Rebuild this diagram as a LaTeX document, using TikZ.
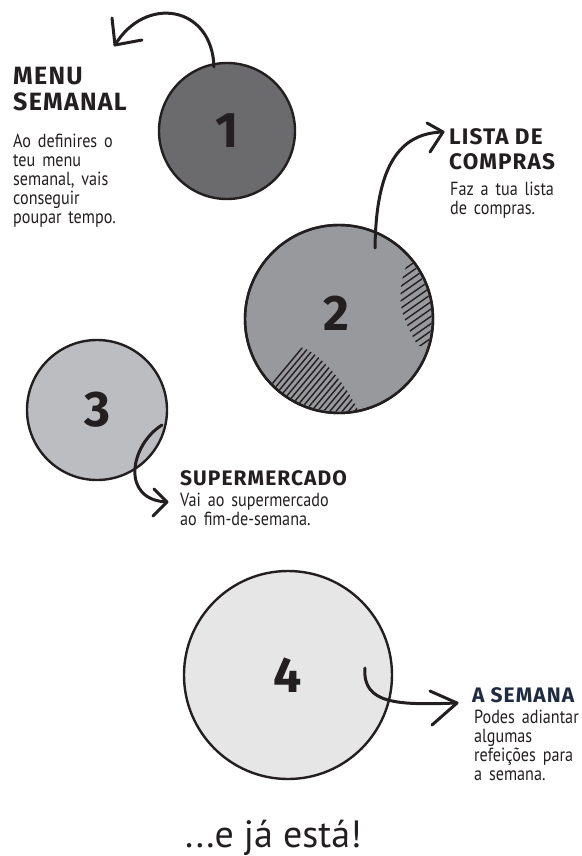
\documentclass[tikz,border=0pt]{standalone}
\usepackage{fontspec}
\newfontfamily\headfont[LetterSpace=5]{Fira Sans}
\newfontfamily\numfont{Fira Sans}
\newfontfamily\bodyfont[FakeStretch=0.85, WordSpace=1.6]{PT Sans}
\newfontfamily\endfont{PT Sans}
\definecolor{ink}{HTML}{231F20}
\definecolor{navy}{HTML}{1E2B40}
\definecolor{stepA}{HTML}{6B6B6E}
\definecolor{stepB}{HTML}{98999C}
\definecolor{stepC}{HTML}{BCBDC0}
\definecolor{stepD}{HTML}{E6E6E7}
\tikzset{
  disc/.style={circle, draw=ink, line width=2.4pt, inner sep=0pt,
    font=\numfont\bfseries\fontsize{50}{50}\selectfont, text=ink},
  swoop/.style={draw=ink, line width=3pt, line cap=round, line join=round},
  hatch/.style={draw=ink, line width=1.4pt, line cap=round},
  heading/.style={anchor=north west, inner sep=0pt, align=left,
    font=\headfont\bfseries\fontsize{25}{26}\selectfont, text=ink},
  subheading/.style={anchor=base west, inner sep=0pt,
    font=\headfont\bfseries\fontsize{21}{25}\selectfont, text=ink},
  blurb/.style={anchor=north west, inner sep=0pt, align=left,
    font=\bodyfont\fontsize{19}{19}\selectfont, text=ink},
}
\begin{document}
\begin{tikzpicture}[x=1pt, y=-1pt]
\useasboundingbox (0,0) rectangle (581,856);

% the four steps
\node[disc, fill=stepA, minimum size=136pt] (c1) at (227,131) {1};
\node[disc, fill=stepB, minimum size=188pt] (c2) at (339,319) {};
\node[disc, fill=stepC, minimum size=140pt] (c3) at (97,410) {3};
\node[disc, fill=stepD, minimum size=208pt] (c4) at (288,675) {4};

% shading strokes on the second disc
\begin{scope}
  \clip (c2.center) circle (92.5pt);
  \begin{scope}
    \clip (236,336) .. controls (268,334) and (300,342) .. (318,357)
      .. controls (335,372) and (348,390) .. (358,410) -- (360,430) -- (230,430) -- cycle;
    \foreach \i in {0,...,26} {
      \draw[hatch] (232+6.2*\i,432) -- ++(70,-84);
    }
  \end{scope}
  \begin{scope}
    \clip (409,260) .. controls (399,280) and (398,305) .. (405,320)
      .. controls (409,330) and (413,338) .. (418,346) -- (445,346) -- (445,260) -- cycle;
    \foreach \i in {0,...,13} {
      \draw[hatch] (390,272+7.3*\i) -- ++(50,-35);
    }
  \end{scope}
\end{scope}
\node[disc, draw=none, fill=none, minimum size=10pt] (n2) at (336,313) {2};
\draw[ink, line width=2.4pt] (c2.center) circle (94pt);

% headings and descriptions
\node[heading] (h1) at (13,67) {MENU\\SEMANAL};
\node[blurb] (t1) at (13,134) {Ao definires o\\teu menu\\semanal, vais\\conseguir\\poupar tempo.};

\node[heading, font=\headfont\bfseries\fontsize{22.5}{25}\selectfont] (h2) at (449,128) {LISTA DE\\COMPRAS};
\node[blurb] (t2) at (450,182) {Faz a tua lista\\de compras.};

\node[subheading] (h3) at (180,485) {SUPERMERCADO};
\node[blurb] (t3) at (180,493) {Vai ao supermercado\\ao fim-de-semana.};

\node[subheading, text=navy] (h4) at (472,702) {A SEMANA};
\node[blurb] (t4) at (474,710) {Podes adiantar\\algumas\\refeições para\\a semana.};

\node[anchor=base west, inner sep=0pt, font=\endfont\fontsize{38}{38}\selectfont, text=ink]
  (fim) at (185,847) {...e já está!};

% swooping arrows
\coordinate (a1s) at (214,67);
\coordinate (a1t) at (115,45);
\draw[swoop] (a1s) .. controls (212,5) and (145,-5) .. (a1t);
\draw[swoop] (112,18) -- (a1t) -- (142,40);

\coordinate (a2s) at (375,248);
\coordinate (a2t) at (443,132);
\draw[swoop] (a2s) .. controls (376,165) and (400,133) .. (a2t);
\draw[swoop] (427,123) -- (a2t) -- (430,152);

\coordinate (a3s) at (162,425);
\coordinate (a3t) at (167,502);
\draw[swoop] (a3s) .. controls (130,445) and (120,500) .. (a3t);
\draw[swoop] (154,489) -- (a3t) -- (153,516);

\coordinate (a4s) at (365,668);
\coordinate (a4t) at (457,703);
\draw[swoop] (a4s) .. controls (362,705) and (400,705) .. (a4t);
\draw[swoop] (430,691) -- (a4t) -- (432,725);
\end{tikzpicture}
\end{document}
